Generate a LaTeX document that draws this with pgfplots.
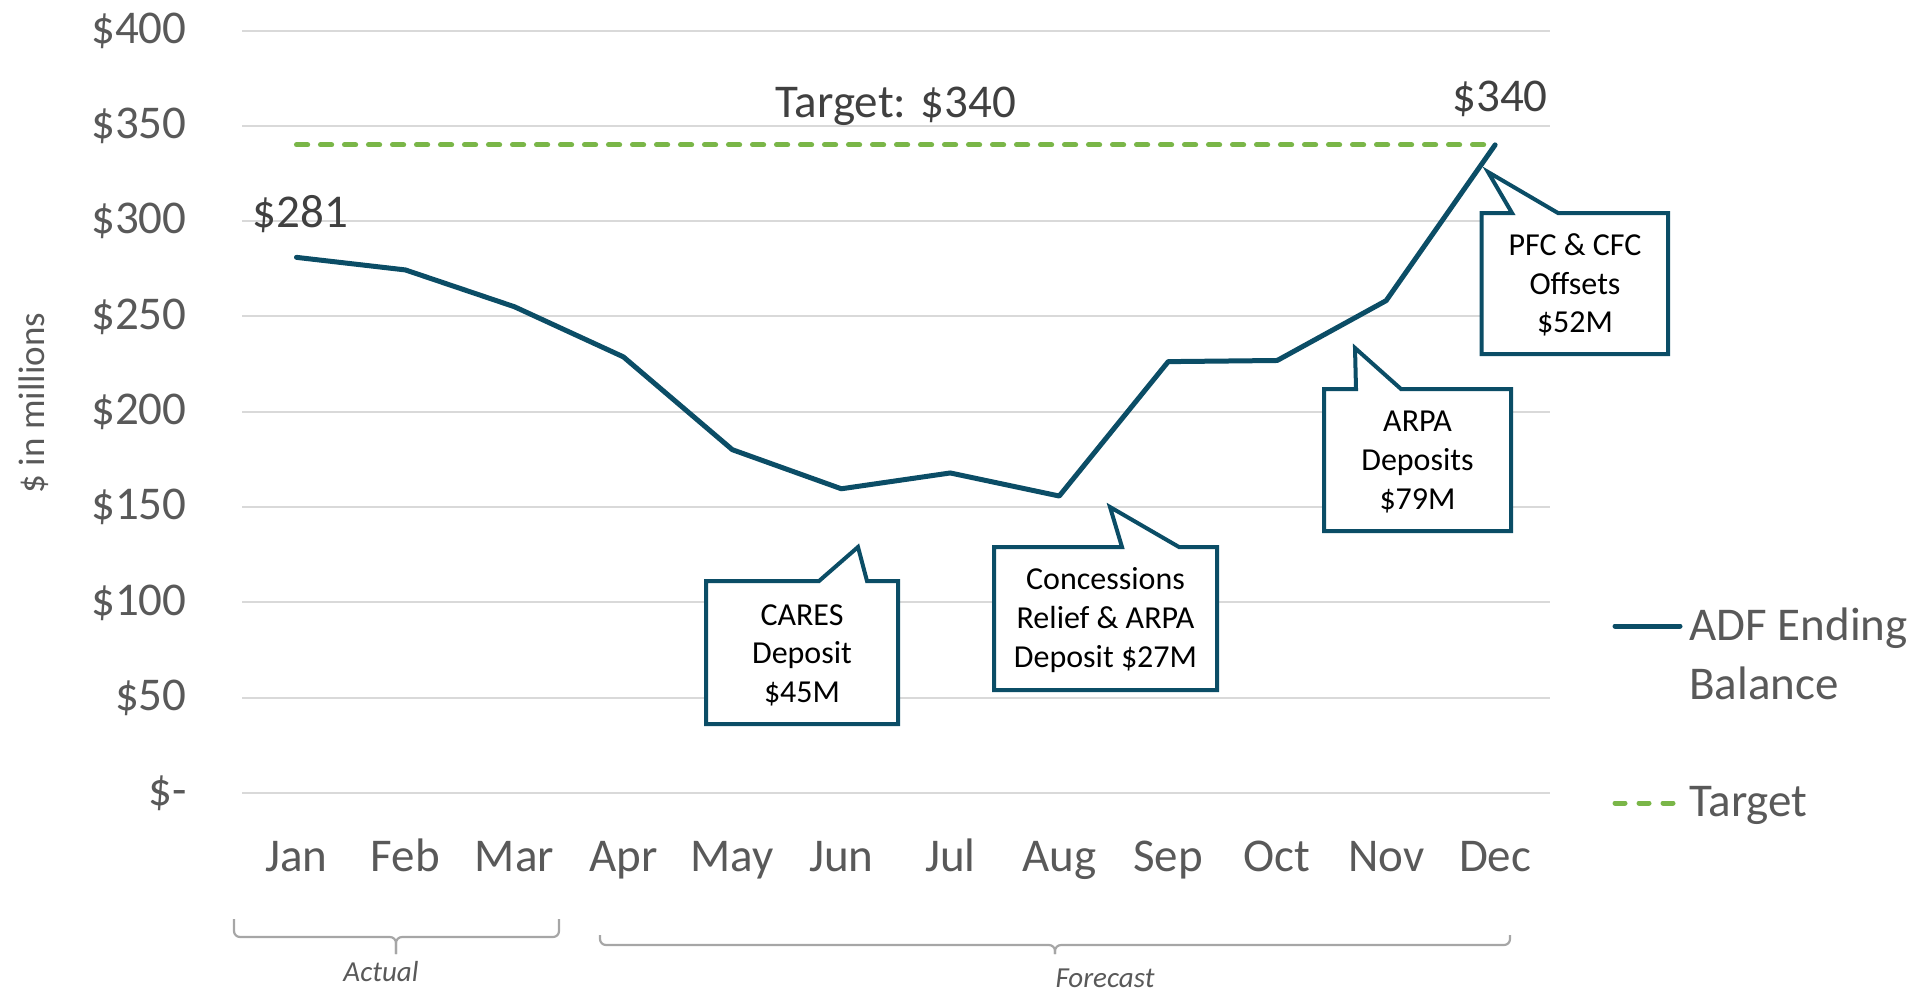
\documentclass[border=0pt]{standalone}
\usepackage{fontspec}
\setmainfont{Carlito}
\usepackage{pgfplots}
\pgfplotsset{compat=1.18}
\definecolor{adfblue}{HTML}{0B4D66}
\definecolor{tgtgreen}{HTML}{7AB648}
\definecolor{gridgray}{HTML}{D9D9D9}
\definecolor{txtgray}{HTML}{595959}
\definecolor{lblgray}{HTML}{404040}
\definecolor{bracegray}{HTML}{A6A6A6}
\begin{document}
\begin{tikzpicture}
\begin{axis}[
  at={(121pt,-396.5pt)}, anchor=south west,
  scale only axis, width=653.8pt, height=381.25pt,
  xmin=-0.5, xmax=11.5, ymin=0, ymax=400,
  clip=false,
  axis line style={draw=none},
  tick style={draw=none},
  major tick length=0pt,
  ymajorgrids, grid style={color=gridgray, line width=1pt},
  xtick={0,1,2,3,4,5,6,7,8,9,10,11},
  xticklabels={Jan,Feb,Mar,Apr,May,Jun,Jul,Aug,Sep,Oct,Nov,Dec},
  ytick={0,50,100,150,200,250,300,350,400},
  yticklabels={\$-,\$50,\$100,\$150,\$200,\$250,\$300,\$350,\$400},
  tick label style={font=\fontsize{23.5}{28}\selectfont, color=txtgray},
  yticklabel style={anchor=east, inner sep=0pt, xshift=-27.5pt},
  xticklabel style={anchor=base, inner sep=0pt, yshift=-39pt},
]
\addplot[color=tgtgreen, line width=2.5pt, line cap=round, dash pattern=on 5.6pt off 6.4pt]
  coordinates {(0,340) (1,340) (2,340) (3,340) (4,340) (5,340) (6,340) (7,340) (8,340) (9,340) (10,340) (11,340)};
\addplot[color=adfblue, line width=2.5pt, line join=round, line cap=round]
  coordinates {(0,281) (1,274.4) (2,255.1) (3,228.8) (4,180.1) (5,159.6) (6,167.9) (7,155.8) (8,226.3) (9,226.9) (10,258.3) (11,340)};
\node[font=\fontsize{23.5}{28}\selectfont, text=lblgray] at (axis cs:0,281) [yshift=21.5pt, xshift=2pt] {\$281};
\node[font=\fontsize{23.5}{28}\selectfont, text=lblgray] at (axis cs:11,340) [yshift=23pt, xshift=2.5pt] {\$340};
\node[font=\fontsize{23.5}{28}\selectfont, text=lblgray] at (axis cs:5.5,360.2) {Target: \$340};
\end{axis}
\begin{scope}[x=0.5pt, y=-0.5pt]
\useasboundingbox (0,0) rectangle (1916,993);
% y label
\node[rotate=90, font=\fontsize{18.5}{22}\selectfont, text=txtgray] at (34,403) {\$ in millions};
% callouts
\tikzset{callout/.style={draw=adfblue, fill=white, line width=2pt, line join=miter}}
\tikzset{ctext/.style={font=\fontsize{16}{19.3}\selectfont, align=center, text=black}}
\draw[callout] (706,581) -- (819,581) -- (858,547) -- (867,581) -- (898,581) -- (898,724) -- (706,724) -- cycle;
\node[ctext] at (802,655) {CARES\\Deposit\\\$45M};
\draw[callout] (994,547) -- (1122,547) -- (1110,507) -- (1179,547) -- (1217,547) -- (1217,690) -- (994,690) -- cycle;
\node[ctext] at (1105.5,620) {Concessions\\Relief \& ARPA\\Deposit \$27M};
\draw[callout] (1324,389) -- (1356,389) -- (1355,348) -- (1401,389) -- (1511,389) -- (1511,531) -- (1324,531) -- cycle;
\node[ctext] at (1417.5,462) {ARPA\\Deposits\\\$79M};
\draw[callout] (1481.5,213) -- (1512,213) -- (1488,172) -- (1558,213) -- (1668,213) -- (1668,354) -- (1481.5,354) -- cycle;
\node[ctext] at (1575,285) {PFC \& CFC\\Offsets\\\$52M};
% legend
\draw[adfblue, line width=2.5pt, line cap=round] (1615,626) -- (1680,626);
\node[anchor=base west, inner sep=0pt, font=\fontsize{23.5}{28}\selectfont, text=txtgray] at (1689,640) {ADF Ending};
\node[anchor=base west, inner sep=0pt, font=\fontsize{23.5}{28}\selectfont, text=txtgray] at (1689,699) {Balance};
\draw[tgtgreen, line width=2.5pt, line cap=round, dash pattern=on 5pt off 7pt] (1615,803) -- (1678,803);
\node[anchor=base west, inner sep=0pt, font=\fontsize{23.5}{28}\selectfont, text=txtgray] at (1689,816) {Target};
% braces
\draw[bracegray, line width=1.1pt, rounded corners=3pt] (234,919) -- (234,937) -- (396,937) -- (396,954);
\draw[bracegray, line width=1.1pt, rounded corners=3pt] (396,954) -- (396,937) -- (559,937) -- (559,919);
\draw[bracegray, line width=1.1pt, rounded corners=3pt] (600,935) -- (600,945) -- (1055,945) -- (1055,954);
\draw[bracegray, line width=1.1pt, rounded corners=3pt] (1055,954) -- (1055,945) -- (1510,945) -- (1510,935);
\node[font=\fontsize{14.5}{17}\selectfont\itshape, text=txtgray] at (381,972) {Actual};
\node[font=\fontsize{14.5}{17}\selectfont\itshape, text=txtgray] at (1105,978) {Forecast};
\end{scope}
\end{tikzpicture}
\end{document}
